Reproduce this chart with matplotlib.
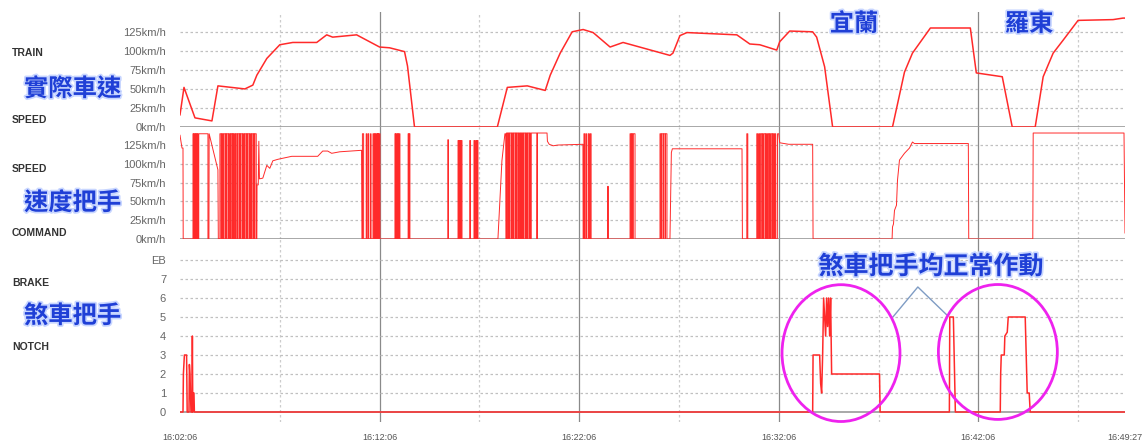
import matplotlib
matplotlib.use('Agg')
import matplotlib.pyplot as plt
import matplotlib.patheffects as pe
from matplotlib.patches import Ellipse

W, H = 1145, 443

# time axis: minutes after 16:02:06
time_ticks = [0, 10, 20, 30, 40, 47.35]
time_labels = ['16:02:06', '16:12:06', '16:22:06', '16:32:06', '16:42:06', '16:49:27']
half_ticks = [5, 15, 25, 35, 45]

speed_ticks = [0, 25, 50, 75, 100, 125]
speed_labels = ['0km/h', '25km/h', '50km/h', '75km/h', '100km/h', '125km/h']
notch_ticks = [0, 1, 2, 3, 4, 5, 6, 7, 8]
notch_labels = ['0', '1', '2', '3', '4', '5', '6', '7', 'EB']

# actual train speed
speed_t = [0.0, 0.2, 0.75, 1.6, 1.9, 3.25, 3.65, 3.85, 4.35, 5.0, 5.65, 6.85, 7.35, 7.65,
           8.85, 10.0, 10.5, 11.25, 11.4, 11.75, 15.9, 16.4, 17.4, 18.3, 18.55, 19.05,
           19.65, 20.2, 20.7, 21.55, 22.2, 24.55, 24.7, 25.05, 25.4, 27.9, 28.55, 29.05,
           29.9, 30.05, 30.55, 31.7, 31.9, 32.3, 32.7, 35.7, 36.3, 36.7, 37.6, 39.6, 39.9,
           41.2, 41.7, 42.85, 43.25, 43.75, 44.25, 45.0, 46.75, 47.25, 47.35]
speed_v = [16, 52, 12, 8, 54, 50, 55, 68, 90, 108, 111, 111, 121, 118,
           121, 105, 104, 99, 80, 0, 0, 52, 54, 48, 68, 97,
           125, 128, 124, 105, 111, 94, 97, 120, 124, 121, 109, 108,
           101, 112, 126, 125, 118, 79, 0, 0, 72, 97, 130, 130, 71,
           66, 0, 0, 66, 97, 114, 140, 141, 143, 143]

# speed command handle: smooth part
cmd_t = [0.0, 0.1, 0.15, 0.16, 1.45, 1.46, 1.9, 1.92, 3.85, 3.86, 3.92, 3.95, 3.98, 4.15,
         4.35, 4.5, 4.65, 4.9, 5.25, 5.6, 6.9, 7.15, 7.4, 7.6, 8.0, 9.1, 9.12, 15.93,
         16.13, 16.28, 16.32, 16.33, 17.9, 17.91, 18.39, 18.41, 18.5, 18.7, 18.94, 20.19,
         20.2, 24.55, 24.62, 24.67, 28.16, 28.18, 29.93, 29.94, 30.0, 30.05, 30.5, 31.7,
         31.72, 35.68, 35.7, 35.75, 35.8, 35.9, 35.95, 36.05, 36.3, 36.55, 36.7, 36.8,
         39.5, 39.52, 42.73, 42.75, 47.3, 47.35]
cmd_v = [138, 121, 121, 0, 0, 140, 92, 0, 0, 72, 72, 130, 80, 81,
         98, 94, 104, 106, 108, 110, 110, 117, 117, 114, 116, 118, 0, 0,
         104, 140, 140, 0, 0, 141, 141, 130, 126, 124, 125, 126,
         0, 0, 115, 120, 120, 0, 0, 140, 140, 128, 126, 126,
         0, 0, 16, 20, 38, 45, 78, 105, 114, 121, 129, 127,
         127, 0, 0, 141, 141, 8]

# speed command handle: on/off pulses
pulse_start = [0.65, 0.71, 0.77, 0.82, 0.88, 0.94,
               2.0, 2.09, 2.17, 2.28, 2.35, 2.45, 2.53, 2.62, 2.71, 2.79, 2.88, 2.98, 3.05,
               3.15, 3.23, 3.33, 3.41, 3.51, 3.58, 3.68, 3.75,
               9.14, 9.33, 9.43, 9.55, 9.67, 9.75, 9.83, 9.9, 9.97,
               10.77, 10.83, 10.9, 10.98, 11.43, 11.49,
               13.42, 13.93, 14.0, 14.08, 14.52, 14.73, 14.82, 14.89,
               16.36, 16.45, 16.53, 16.63, 16.71, 16.81, 16.89, 16.98, 17.06, 17.15, 17.23,
               17.33, 17.41, 17.51, 17.6,
               20.24, 20.33, 20.45, 20.55, 21.43, 22.55, 22.63, 22.71,
               24.05, 24.13, 24.23, 24.33,
               28.4, 28.9, 29.0, 29.08, 29.18, 29.26, 29.36, 29.44, 29.53, 29.62, 29.71, 29.8]
pulse_end = [0.68, 0.74, 0.79, 0.85, 0.9, 1.4,
             2.06, 2.14, 2.25, 2.32, 2.42, 2.5, 2.6, 2.68, 2.76, 2.85, 2.95, 3.02, 3.12,
             3.2, 3.3, 3.38, 3.48, 3.55, 3.65, 3.72, 3.82,
             9.2, 9.37, 9.46, 9.57, 9.72, 9.8, 9.88, 9.95, 10.02,
             10.8, 10.87, 10.95, 11.02, 11.46, 11.52,
             13.45, 13.97, 14.05, 14.13, 14.55, 14.77, 14.86, 14.93,
             16.42, 16.5, 16.6, 16.68, 16.78, 16.86, 16.95, 17.03, 17.12, 17.2, 17.3,
             17.38, 17.48, 17.56, 17.88,
             20.27, 20.37, 20.5, 20.6, 21.46, 22.6, 22.68, 22.8,
             24.1, 24.2, 24.3, 24.4,
             28.45, 28.95, 29.04, 29.15, 29.22, 29.33, 29.4, 29.5, 29.58, 29.68, 29.76, 29.85]
pulse_height = [140] * 27 + [140] * 9 + [140] * 6 + [132, 131, 131, 131, 131, 131, 131, 131] \
    + [141] * 15 + [140, 140, 140, 140, 70, 140, 140, 140] + [140] * 4 + [140] * 12

# brake handle notch
brake_t = [0.0, 0.15, 0.17, 0.22, 0.33, 0.36, 0.45, 0.47, 0.5, 0.55, 0.6, 0.62, 0.64, 0.65,
           0.7, 0.72, 31.7, 31.72, 32.05, 32.1, 32.15, 32.2, 32.25, 32.35, 32.4, 32.45,
           32.5, 32.55, 32.6, 32.65, 35.05, 35.08, 38.55, 38.57, 38.75, 38.85, 41.1, 41.12,
           41.15, 41.3, 41.33, 41.45, 41.5, 42.35, 42.4, 42.45, 42.55, 42.6, 47.35]
brake_v = [0, 0, 2, 3, 3, 0, 0, 2.5, 2, 0, 0, 4, 0, 1,
           1, 0, 0, 3, 3, 1.5, 1, 3, 6, 4, 6, 4.5,
           6, 4, 6, 2, 2, 0, 0, 5, 5, 0, 0, 2,
           3, 3, 4, 4.2, 5, 5, 3, 1, 1, 0, 0]

# merge smooth part and pulses into one trace
pts = [(t, v) for t, v in zip(cmd_t, cmd_v)]
for s, e, h in zip(pulse_start, pulse_end, pulse_height):
    pts += [(s, 0), (s, h), (e, h), (e, 0)]
pts.sort(key=lambda p: p[0])
cmd_line_t = [p[0] for p in pts]
cmd_line_v = [p[1] for p in pts]

RED = '#ff2a2a'
BLUE = '#1f3fd6'
GLOW = [pe.withStroke(linewidth=2.5, foreground='#c8d6ff')]
CJK = ['Noto Sans CJK TC', 'DejaVu Sans']

fig = plt.figure(figsize=(W / 100, H / 100), dpi=100)


def add_panel(top, bottom):
    ax = fig.add_axes([180 / W, 1 - bottom / H, 945 / W, (bottom - top) / H])
    ax.set_xlim(0, 47.35)
    ax.patch.set_visible(False)
    for s in ax.spines.values():
        s.set_visible(False)
    ax.tick_params(length=0, pad=10, labelsize=8, labelcolor='#666666')
    for x in half_ticks:
        ax.axvline(x, color='#cccccc', lw=0.9, ls=(0, (2, 2)), zorder=0)
    for x in time_ticks[1:-1]:
        ax.axvline(x, color='#8a8a8a', lw=0.9, zorder=0)
    return ax


ax1 = add_panel(12, 127)
ax1.set_ylim(0, 151)
ax2 = add_panel(127, 239)
ax2.set_ylim(0, 149)
ax3 = add_panel(239, 422)
ax3.set_ylim(-0.526, 9.105)

for ax, ticks, labels in [(ax1, speed_ticks, speed_labels), (ax2, speed_ticks, speed_labels),
                          (ax3, notch_ticks, notch_labels)]:
    ax.set_yticks(ticks)
    ax.set_yticklabels(labels, fontfamily='Liberation Sans')
    for y in ticks[1:]:
        ax.axhline(y, color='#c0c0c0', lw=0.9, ls=(0, (2, 2)), zorder=0)
    ax.axhline(0, color='#999999', lw=1.2, zorder=1)
    ax.set_xticks([])

ax3.set_xticks(time_ticks)
ax3.set_xticklabels(time_labels, fontfamily='Liberation Sans', fontsize=6.5, color='#555555')
ax3.tick_params(axis='x', pad=8)

ax1.plot(speed_t, speed_v, color=RED, lw=1.1, zorder=3)
ax2.plot(cmd_line_t, cmd_line_v, color=RED, lw=0.7, zorder=3)
ax3.plot(brake_t, brake_v, color=RED, lw=1.1, zorder=3)

# left side labels
for txt, y in [('TRAIN', 53), ('SPEED', 120), ('SPEED', 169), ('COMMAND', 233),
               ('BRAKE', 283), ('NOTCH', 347)]:
    fig.text(12 / W, 1 - y / H, txt, fontsize=7.5, fontweight='bold', color='#333333',
             family='Liberation Sans', ha='left', va='center')
for txt, y in [('實際車速', 89), ('速度把手', 203), ('煞車把手', 316)]:
    fig.text(24 / W, 1 - y / H, txt, fontsize=17.5, fontweight='bold', color=BLUE,
             family=CJK, ha='left', va='center', path_effects=GLOW)

# station names and note
fig.text(854 / W, 1 - 24 / H, '宜蘭', fontsize=17.5, fontweight='bold', color=BLUE,
         family=CJK, ha='center', va='center', path_effects=GLOW)
fig.text(1029 / W, 1 - 24 / H, '羅東', fontsize=17.5, fontweight='bold', color=BLUE,
         family=CJK, ha='center', va='center', path_effects=GLOW)
fig.text(931 / W, 1 - 267 / H, '煞車把手均正常作動', fontsize=18, fontweight='bold', color=BLUE,
         family=CJK, ha='center', va='center', path_effects=GLOW)

# highlighted brake actions
for cx, cy, w, h in [(33.12, 3.1, 5.91, 7.2), (40.98, 3.16, 5.96, 7.1)]:
    ax3.add_patch(Ellipse((cx, cy), w, h, fill=False, edgecolor='#ee22ee', lw=2,
                          clip_on=False, zorder=5))
ax3.plot([35.72, 36.97, 38.43], [5.0, 6.58, 5.1], color='#7f9cc4', lw=1, clip_on=False, zorder=4)

fig.savefig('out.png', dpi=100)
